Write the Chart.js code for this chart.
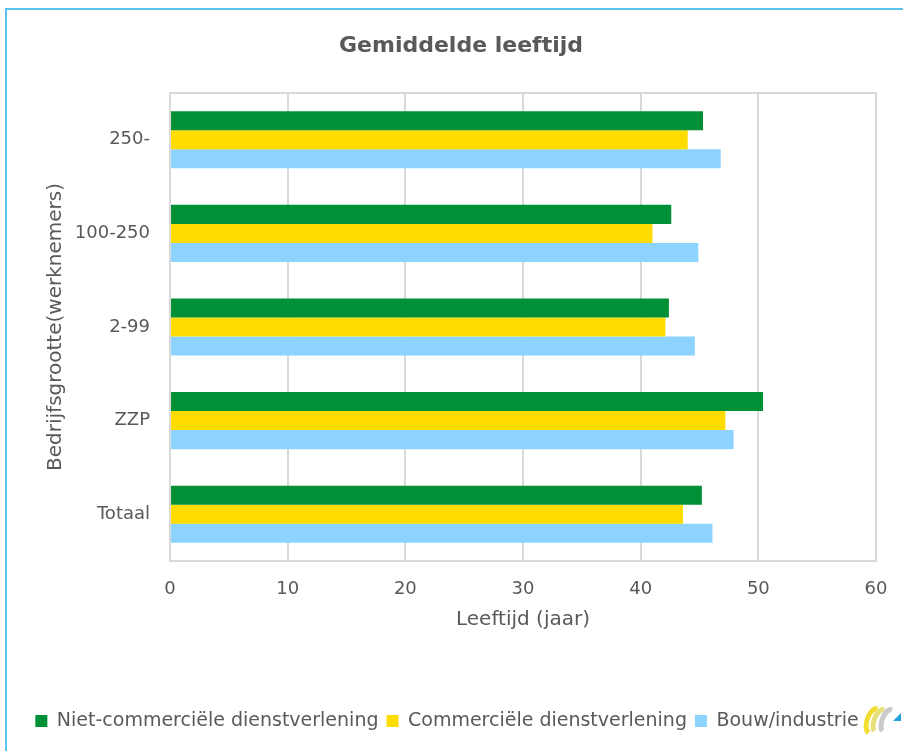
<!DOCTYPE html>
<html>
<head>
<meta charset="utf-8">
<script src="https://cdn.jsdelivr.net/npm/chart.js@4/dist/chart.umd.min.js"></script>
<style>
  html, body { margin: 0; padding: 0; background: #ffffff; overflow: hidden; }
  #wrap { position: relative; width: 903px; height: 751px; }
  #frame { position: absolute; left: 5px; top: 8px; width: 1000px; height: 1000px; border: 2px solid #5BC4EA; box-sizing: border-box; pointer-events: none; }
  canvas { position: absolute; left: 0; top: 0; }
</style>
</head>
<body>
<div id="wrap">
  <div id="frame"></div>
  <canvas id="c" width="903" height="751"></canvas>
</div>
<script>
const categories = ["250-", "100-250", "2-99", "ZZP", "Totaal"];
const nietCommercieel = [45.3, 42.6, 42.4, 50.4, 45.2];
const commercieel = [44.0, 41.0, 42.1, 47.2, 43.6];
const bouwIndustrie = [46.8, 44.9, 44.6, 47.9, 46.1];
const xTicks = [0, 10, 20, 30, 40, 50, 60];

const FONT = "'DejaVu Sans', sans-serif";
const TXT = '#595959';

const plotBorder = {
  id: 'plotBorder',
  afterLayout(chart) {
    // centre the title on the whole frame, nudge legend like the original
    chart.titleBlock.left += 46;
    chart.legend.left += 18;
  },
  afterDatasetsDraw(chart) {
    const a = chart.chartArea, ctx = chart.ctx;
    ctx.save();
    ctx.strokeStyle = '#d9d9d9';
    ctx.lineWidth = 2;
    ctx.strokeRect(a.left, a.top, a.right - a.left, a.bottom - a.top);
    ctx.restore();
  }
};

const logo = {
  id: 'logo',
  afterDraw(chart) {
    const ctx = chart.ctx;
    ctx.save();
    ctx.lineWidth = 5;
    ctx.strokeStyle = '#F2DE2E';
    ctx.beginPath();
    ctx.ellipse(874, 721, 7, 13, 0.35, Math.PI * 0.55, Math.PI * 1.45);
    ctx.stroke();
    ctx.strokeStyle = '#E8E07A';
    ctx.beginPath();
    ctx.ellipse(880, 721, 6, 12, 0.35, Math.PI * 0.6, Math.PI * 1.5);
    ctx.stroke();
    ctx.strokeStyle = '#C9C9C9';
    ctx.beginPath();
    ctx.ellipse(888, 721, 6, 12, 0.35, Math.PI * 0.6, Math.PI * 1.5);
    ctx.stroke();
    ctx.fillStyle = '#1E9FE0';
    ctx.beginPath();
    ctx.moveTo(893, 721); ctx.lineTo(901, 721); ctx.lineTo(901, 713); ctx.closePath();
    ctx.fill();
    ctx.restore();
  }
};

new Chart(document.getElementById('c'), {
  type: 'bar',
  data: {
    labels: categories,
    datasets: [
      { label: 'Niet-commerciële dienstverlening', data: nietCommercieel, backgroundColor: '#009036' },
      { label: 'Commerciële dienstverlening', data: commercieel, backgroundColor: '#FFDC00' },
      { label: 'Bouw/industrie', data: bouwIndustrie, backgroundColor: '#8DD3FF' }
    ]
  },
  options: {
    indexAxis: 'y',
    responsive: false,
    animation: false,
    devicePixelRatio: 1,
    datasets: { bar: { categoryPercentage: 0.61, barPercentage: 1.0, borderWidth: 0 } },
    layout: { padding: { left: 0, right: 27, top: 0, bottom: 10.5 } },
    plugins: {
      title: {
        display: true,
        text: 'Gemiddelde leeftijd',
        color: TXT,
        font: { family: FONT, size: 22, weight: 'bold' },
        padding: { top: 33, bottom: 33.6 }
      },
      legend: {
        position: 'bottom',
        labels: {
          color: TXT,
          font: { family: FONT, size: 19 },
          boxWidth: 12,
          boxHeight: 12,
          padding: 8
        }
      },
      tooltip: { enabled: false }
    },
    scales: {
      x: {
        min: 0,
        max: 60,
        afterBuildTicks(scale) { scale.ticks = xTicks.map(v => ({ value: v })); },
        afterFit(scale) { scale.height = 142.5; },
        grid: { color: '#d9d9d9', lineWidth: 2, drawTicks: true, tickLength: 4, tickColor: 'rgba(0,0,0,0)' },
        border: { display: false },
        ticks: { color: TXT, font: { family: FONT, size: 18 }, padding: 14 },
        title: {
          display: true,
          text: 'Leeftijd (jaar)',
          color: TXT,
          font: { family: FONT, size: 20 },
          padding: { top: 0, bottom: 71.5 }
        }
      },
      y: {
        afterFit(scale) { scale.width = 170; },
        grid: { display: false, drawTicks: false },
        border: { display: false },
        ticks: { color: TXT, font: { family: FONT, size: 18 }, padding: 20 },
        title: {
          display: true,
          text: 'Bedrijfsgrootte(werknemers)',
          color: TXT,
          font: { family: FONT, size: 20 },
          padding: { top: 44, bottom: 0 }
        }
      }
    }
  },
  plugins: [plotBorder, logo]
});
</script>
</body>
</html>
